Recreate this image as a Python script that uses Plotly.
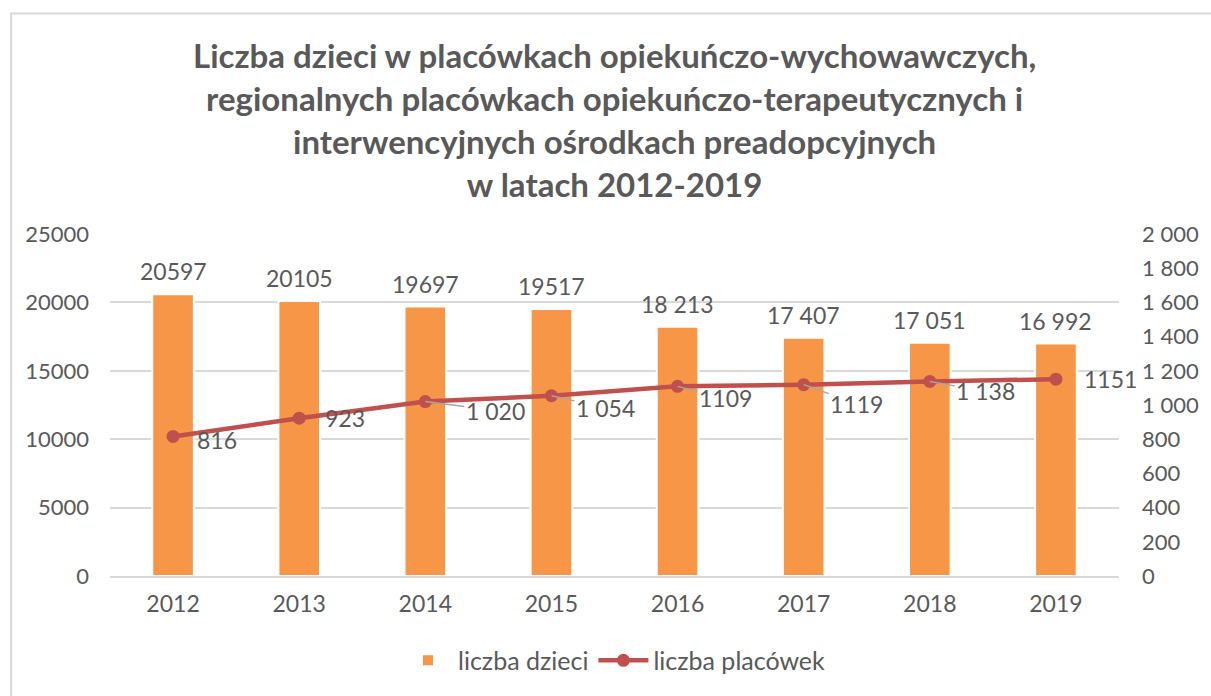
import plotly.graph_objects as go

# Data
years = ["2012", "2013", "2014", "2015", "2016", "2017", "2018", "2019"]
children = [20597, 20105, 19697, 19517, 18213, 17407, 17051, 16992]
children_labels = ["20597", "20105", "19697", "19517", "18 213", "17 407", "17 051", "16 992"]
facilities = [816, 923, 1020, 1054, 1109, 1119, 1138, 1151]
facility_labels = ["816", "923", "1 020", "1 054", "1109", "1119", "1 138", "1151"]
left_ticks = [0, 5000, 10000, 15000, 20000, 25000]
right_ticks = [0, 200, 400, 600, 800, 1000, 1200, 1400, 1600, 1800, 2000]
right_tick_text = ["0", "200", "400", "600", "800", "1 000", "1 200", "1 400", "1 600", "1 800", "2 000"]

# label placement for the line labels (pixel offsets), with leader line or not
label_offsets = [(44, 4, False), (46, 0, False), (70, 9, True), (54, 12, True),
                 (48, 12, True), (53, 19, True), (56, 10, True), (55, 0, False)]

FONT = "Lato"
TEXT = "#595959"
BAR = "#F79646"
LINE = "#C0504D"
GRID = "#D9D9D9"

fig = go.Figure()
fig.add_trace(go.Bar(
    x=years, y=children, name="liczba dzieci",
    marker=dict(color=BAR, line=dict(color="white", width=2)),
    width=0.33,
))
fig.add_trace(go.Scatter(
    x=years, y=facilities, name="liczba placówek", yaxis="y2",
    mode="lines+markers",
    line=dict(color=LINE, width=4.5),
    marker=dict(color=LINE, size=13),
))

# category axis: annotations are placed by category index
for i, (val, lab) in enumerate(zip(children, children_labels)):
    fig.add_annotation(x=i, y=val, xref="x", yref="y", text=lab, showarrow=False,
                       yanchor="bottom", yshift=7,
                       font=dict(family=FONT, size=23, color=TEXT))

for i, (val, lab, (dx, dy, leader)) in enumerate(zip(facilities, facility_labels, label_offsets)):
    if leader:
        fig.add_annotation(x=i, y=val, xref="x", yref="y2", text=lab,
                           showarrow=True, arrowhead=0, arrowwidth=1.5, arrowcolor="#A6A6A6",
                           ax=dx, ay=dy, standoff=0,
                           font=dict(family=FONT, size=23, color=TEXT))
    else:
        fig.add_annotation(x=i, y=val, xref="x", yref="y2", text=lab,
                           showarrow=False, xshift=dx, yshift=-dy,
                           font=dict(family=FONT, size=23, color=TEXT))

# title as annotation (multi-line placement is steadier this way)
fig.add_annotation(
    text="Liczba dzieci w placówkach opiekuńczo-wychowawczych,<br>"
         "regionalnych placówkach opiekuńczo-terapeutycznych i<br>"
         "interwencyjnych ośrodkach preadopcyjnych<br>w latach 2012-2019",
    xref="paper", yref="paper", x=0.5, y=1.588, xanchor="center", yanchor="top",
    showarrow=False, align="center",
    font=dict(family=FONT, size=33, color=TEXT, weight="bold"),
)

# chart frame
fig.add_shape(type="rect", xref="paper", yref="paper",
              x0=-0.098, x1=1.2, y0=-0.5, y1=1.645,
              line=dict(color=GRID, width=2), layer="below")

fig.update_layout(
    width=1211, height=696,
    paper_bgcolor="white", plot_bgcolor="white",
    margin=dict(l=110, r=84, t=234, b=118),
    font=dict(family=FONT, size=18, color=TEXT),
    showlegend=True,
    legend=dict(orientation="h", x=0.5, xanchor="center", y=-0.18, yanchor="top",
                itemwidth=50, font=dict(family=FONT, size=25, color=TEXT)),
)
fig.update_xaxes(type="category", range=[-0.5, 7.5], showgrid=False, showline=True,
                 linecolor=GRID, linewidth=2, ticks="", ticklabelstandoff=6,
                 tickfont=dict(size=23, color=TEXT))
fig.update_layout(
    yaxis=dict(range=[0, 25000], tickvals=left_ticks, tickformat="d", showgrid=True, gridcolor=GRID,
               gridwidth=2, zeroline=False, showline=False, ticks="", ticklabelstandoff=20,
               tickfont=dict(size=22, color=TEXT)),
    yaxis2=dict(range=[0, 2000], tickvals=right_ticks, ticktext=right_tick_text,
                overlaying="y", side="right", showgrid=False, zeroline=False,
                showline=False, ticks="", ticklabelstandoff=22,
                tickfont=dict(size=22, color=TEXT)),
)

# drop the default page margin so the figure sits at the window's corner
fig.write_html("out.html", config={"displayModeBar": False},
               post_script="document.body.style.margin='0';")
